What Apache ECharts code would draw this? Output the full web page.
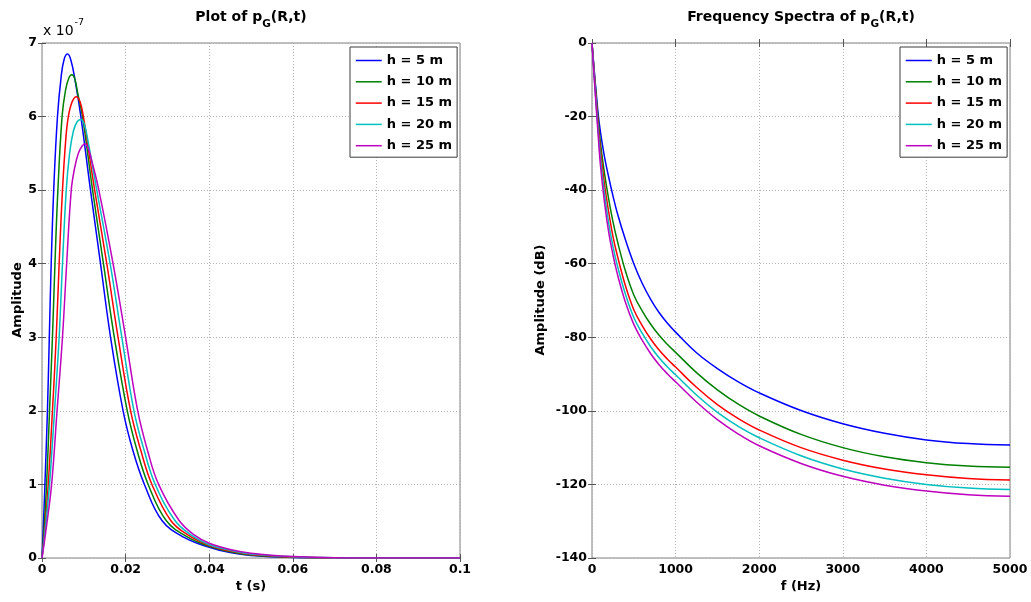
<!DOCTYPE html>
<html>
<head>
<meta charset="utf-8">
<title>Pressure pulse and spectra</title>
<script src="https://cdn.jsdelivr.net/npm/echarts@6/dist/echarts.min.js"></script>
<style>
  html, body { margin: 0; padding: 0; background: #ffffff; }
  #chart { width: 1031px; height: 602px; }
</style>
</head>
<body>
<div id="chart"></div>
<script>
// Source heights shown in both panels
const heightNames = ['h = 5 m', 'h = 10 m', 'h = 15 m', 'h = 20 m', 'h = 25 m'];
const heightColors = ['#0000ff', '#008000', '#ff0000', '#00bfbf', '#bf00bf'];

// Time-domain pulse p_G(R,t): [t (s), amplitude in units of 1e-7]
const pulseH5 = [[0,0],[0.0003,0.4],[0.0007,1],[0.0013,2],[0.00175,3],[0.0022,4],[0.0028,5],[0.0037,6],[0.0046,6.55],[0.0053,6.78],[0.0061,6.85],[0.0069,6.77],[0.0079,6.5],[0.0093,6.0],[0.0116,5.0],[0.0140,4.0],[0.0164,3.0],[0.0194,2.0],[0.0218,1.45],[0.0245,1.0],[0.0287,0.51],[0.034,0.28],[0.04,0.147],[0.045,0.075],[0.05,0.035],[0.06,0.008],[0.07,0.002],[0.08,0],[0.1,0]];
const pulseH10 = [[0,0],[0.0005,0.4],[0.0011,1],[0.0018,2],[0.0025,3],[0.0031,4],[0.0038,5],[0.0048,6],[0.0056,6.35],[0.0064,6.52],[0.0071,6.57],[0.0078,6.52],[0.0086,6.3],[0.0097,6.0],[0.0121,5.0],[0.0147,4.0],[0.0173,3.0],[0.0204,2.0],[0.0228,1.45],[0.0254,1.0],[0.0297,0.51],[0.035,0.28],[0.04,0.16],[0.045,0.085],[0.05,0.041],[0.06,0.01],[0.07,0.002],[0.08,0],[0.1,0]];
const pulseH15 = [[0,0],[0.0007,0.4],[0.0015,1],[0.0025,2],[0.0034,3],[0.0041,4],[0.0049,5],[0.0057,5.7],[0.0063,6.0],[0.0072,6.2],[0.0082,6.27],[0.0091,6.2],[0.0099,6.0],[0.0126,5.0],[0.0155,4.0],[0.0182,3.0],[0.0212,2.0],[0.0237,1.45],[0.0263,1.0],[0.0308,0.51],[0.035,0.31],[0.04,0.17],[0.045,0.095],[0.05,0.047],[0.06,0.013],[0.07,0.003],[0.08,0],[0.1,0]];
const pulseH20 = [[0,0],[0.0008,0.4],[0.0018,1],[0.0030,2],[0.0041,3],[0.0049,4],[0.0058,5],[0.0066,5.5],[0.0075,5.8],[0.0084,5.93],[0.0093,5.96],[0.0101,5.9],[0.0109,5.7],[0.0131,5.0],[0.0163,4.0],[0.0191,3.0],[0.0220,2.0],[0.0245,1.45],[0.0271,1.0],[0.0318,0.51],[0.036,0.30],[0.04,0.18],[0.045,0.105],[0.05,0.055],[0.06,0.016],[0.07,0.004],[0.08,0.001],[0.1,0]];
const pulseH25 = [[0,0],[0.001,0.4],[0.0023,1],[0.0036,2],[0.0049,3],[0.0059,4],[0.0070,5],[0.0078,5.3],[0.0087,5.5],[0.0096,5.6],[0.0103,5.63],[0.0111,5.56],[0.0119,5.4],[0.0136,5.0],[0.0170,4.0],[0.0200,3.0],[0.0229,2.0],[0.0253,1.45],[0.0279,1.0],[0.0328,0.51],[0.0365,0.31],[0.04,0.2],[0.045,0.115],[0.05,0.065],[0.06,0.02],[0.07,0.005],[0.08,0.001],[0.1,0]];
const pulseSets = [pulseH5, pulseH10, pulseH15, pulseH20, pulseH25];

// Frequency spectra of p_G(R,t): shared frequency samples (Hz) and level (dB)
const freqHz = [0,25,50,75,100,150,200,250,300,400,500,600,700,800,900,1000,1250,1500,1750,2000,2500,3000,3500,4000,4500,5000];
const specH5  = [0,-7,-13.5,-19.5,-24,-31,-36.5,-41.5,-46,-53.5,-60,-65.3,-69.6,-73.2,-76.1,-78.6,-84.2,-88.5,-92.1,-95.1,-99.9,-103.5,-106.1,-107.9,-108.9,-109.3];
const specH10 = [0,-7.5,-14.5,-21,-27,-35.5,-42.5,-48.5,-53.5,-62,-68.5,-72.8,-76.4,-79.4,-81.9,-84.1,-89.6,-94.3,-98.2,-101.4,-106.4,-110.0,-112.5,-114.1,-115.0,-115.3];
const specH15 = [0,-8,-15.5,-22.5,-29,-38.5,-46,-52.5,-57.5,-66,-72.5,-76.8,-80.4,-83.4,-85.9,-88.1,-93.6,-98.3,-102.1,-105.2,-110.0,-113.4,-115.8,-117.4,-118.4,-118.8];
const specH20 = [0,-8.5,-16.5,-24,-31,-41,-49,-55.2,-60.2,-68.3,-74.6,-78.9,-82.5,-85.5,-88.0,-90.2,-95.7,-100.4,-104.2,-107.3,-112.2,-115.8,-118.3,-120.0,-121.0,-121.4];
const specH25 = [0,-9,-17.5,-25.5,-33,-43.5,-51.5,-57.5,-62.5,-70.5,-76.5,-80.8,-84.4,-87.4,-89.9,-92.1,-97.6,-102.4,-106.3,-109.5,-114.3,-117.8,-120.2,-121.8,-122.8,-123.2];
const specSets = [specH5, specH10, specH15, specH20, specH25];

// Axis ranges and tick steps
const timeAxis = { min: 0, max: 0.1, step: 0.02 };
const ampAxis = { min: 0, max: 7, step: 1 };
const ampExponent = '-7';
const freqAxis = { min: 0, max: 5000, step: 1000 };
const dbAxis = { min: -140, max: 0, step: 20 };

const FONT = 'DejaVu Sans';
const frameColor = '#808080';
const gridDots = { color: '#b3b3b3', width: 1, type: [1, 2] };

function valueAxis(gridIndex, range, position, withLabels) {
  return {
    type: 'value', gridIndex, position,
    min: range.min, max: range.max, interval: range.step,
    axisLine: { show: false },
    axisTick: { show: true, inside: true, length: 4, lineStyle: { color: '#555' } },
    axisLabel: withLabels
      ? { show: true, margin: 5, color: '#000', fontFamily: FONT, fontWeight: 'bold', fontSize: 12.5,
          formatter: v => String(v) }
      : { show: false },
    splitLine: withLabels ? { show: true, lineStyle: gridDots } : { show: false }
  };
}

const panels = [
  { left: 42, top: 43, width: 418, height: 515 },
  { left: 592, top: 43, width: 418, height: 515 }
];

const series = [];
heightNames.forEach((name, i) => {
  series.push({
    name, type: 'line', xAxisIndex: 0, yAxisIndex: 0,
    data: pulseSets[i], symbol: 'none', smooth: 0.4,
    lineStyle: { color: heightColors[i], width: 1.5 }, itemStyle: { color: heightColors[i] },
    clip: true, z: 3 + i
  });
});
heightNames.forEach((name, i) => {
  series.push({
    name, type: 'line', xAxisIndex: 2, yAxisIndex: 2,
    data: freqHz.map((f, k) => [f, specSets[i][k]]), symbol: 'none', smooth: 0.4,
    lineStyle: { color: heightColors[i], width: 1.5 }, itemStyle: { color: heightColors[i] },
    clip: true, z: 3 + i
  });
});

function legendAt(left) {
  return {
    data: heightNames, orient: 'vertical', left, top: 47,
    itemWidth: 26, itemHeight: 14, itemGap: 6.3,
    padding: [6, 5, 4, 5],
    backgroundColor: '#ffffff', borderColor: '#3c3c3c', borderWidth: 1, borderRadius: 0,
    selectedMode: false,
    itemStyle: { opacity: 0 },
    lineStyle: { width: 1.5 },
    textStyle: { color: '#000', fontFamily: FONT, fontWeight: 'bold', fontSize: 13, lineHeight: 15 }
  };
}

const titleRich = {
  a: { fontFamily: FONT, fontWeight: 'bold', fontSize: 14, fill: '#000', verticalAlign: 'top', lineHeight: 16 },
  b: { fontFamily: FONT, fontWeight: 'bold', fontSize: 10.5, fill: '#000', verticalAlign: 'top', lineHeight: 16, padding: [9, 0, 0, 0] }
};
const labelFont = 'bold 13px "' + FONT + '"';

const chart = echarts.init(document.getElementById('chart'), null, { renderer: 'canvas' });
chart.setOption({
  backgroundColor: '#ffffff',
  animation: false,
  grid: panels.map(p => Object.assign({ show: true, borderColor: frameColor, borderWidth: 1, backgroundColor: 'transparent', containLabel: false }, p)),
  xAxis: [
    valueAxis(0, timeAxis, 'bottom', true),
    valueAxis(0, timeAxis, 'top', false),
    valueAxis(1, freqAxis, 'bottom', true),
    valueAxis(1, freqAxis, 'top', false)
  ],
  yAxis: [
    valueAxis(0, ampAxis, 'left', true),
    valueAxis(0, ampAxis, 'right', false),
    valueAxis(1, dbAxis, 'left', true),
    valueAxis(1, dbAxis, 'right', false)
  ],
  legend: [legendAt(350), legendAt(900)],
  series,
  graphic: [
    { type: 'text', x: 251, y: 10, z: 10, style: { text: '{a|Plot of p}{b|G}{a|(R,t)}', rich: titleRich, align: 'center', verticalAlign: 'top' } },
    { type: 'text', x: 801, y: 10, z: 10, style: { text: '{a|Frequency Spectra of p}{b|G}{a|(R,t)}', rich: titleRich, align: 'center', verticalAlign: 'top' } },
    { type: 'text', x: 43, y: 18, z: 10, style: {
        text: '{n|x 10}{s|' + ampExponent + '}',
        rich: {
          n: { fontFamily: FONT, fontSize: 14, fill: '#000', verticalAlign: 'top', lineHeight: 15, padding: [6, 0, 0, 0] },
          s: { fontFamily: FONT, fontSize: 9.5, fill: '#000', verticalAlign: 'top', lineHeight: 15, padding: [0, 0, 0, 1] }
        },
        align: 'left', verticalAlign: 'top' } },
    { type: 'text', x: 251, y: 587, z: 10, style: { text: 't (s)', font: labelFont, fill: '#000', align: 'center', verticalAlign: 'middle' } },
    { type: 'text', x: 801, y: 587, z: 10, style: { text: 'f (Hz)', font: labelFont, fill: '#000', align: 'center', verticalAlign: 'middle' } },
    { type: 'text', x: 18, y: 300, rotation: Math.PI / 2, z: 10, style: { text: 'Amplitude', font: labelFont, fill: '#000', align: 'center', verticalAlign: 'middle' } },
    { type: 'text', x: 541, y: 300, rotation: Math.PI / 2, z: 10, style: { text: 'Amplitude (dB)', font: labelFont, fill: '#000', align: 'center', verticalAlign: 'middle' } }
  ]
});
</script>
</body>
</html>
